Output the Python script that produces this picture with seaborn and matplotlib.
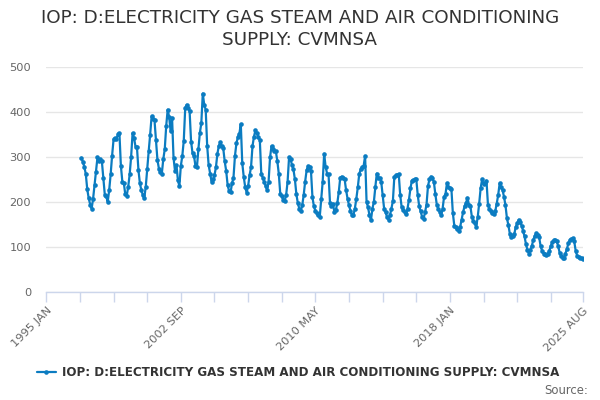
import matplotlib
matplotlib.use("Agg")
import matplotlib.pyplot as plt
import seaborn as sns
import pandas as pd
import numpy as np

# ---- data (monthly values, Jan 1997 .. Aug 2025) ----
start_year = 1997
v1997 = [298, 289, 278, 262, 228, 208, 194, 185, 207, 238, 267, 299]
v1998 = [291, 295, 290, 254, 216, 212, 200, 226, 261, 303, 339, 341]
v1999 = [340, 350, 353, 280, 245, 242, 217, 214, 233, 261, 300, 353]
v2000 = [342, 323, 321, 271, 241, 226, 215, 209, 233, 274, 312, 349]
v2001 = [390, 384, 381, 338, 293, 274, 267, 263, 295, 317, 369, 405]
v2002 = [389, 357, 387, 298, 269, 282, 248, 235, 280, 302, 336, 409]
v2003 = [416, 409, 401, 334, 308, 302, 280, 277, 317, 353, 375, 441]
v2004 = [416, 405, 325, 282, 263, 245, 250, 259, 277, 307, 325, 332]
v2005 = [324, 319, 290, 269, 237, 224, 221, 241, 254, 302, 330, 344]
v2006 = [351, 373, 286, 256, 233, 220, 235, 259, 277, 324, 345, 359]
v2007 = [353, 344, 338, 262, 254, 245, 235, 226, 245, 299, 324, 317]
v2008 = [313, 312, 290, 262, 217, 212, 205, 202, 215, 245, 299, 295]
v2009 = [282, 272, 250, 217, 197, 185, 179, 192, 215, 245, 270, 280]
v2010 = [277, 268, 210, 190, 180, 175, 170, 167, 207, 245, 307, 278]
v2011 = [263, 261, 197, 190, 196, 177, 182, 197, 222, 254, 256, 253]
v2012 = [250, 226, 207, 192, 180, 170, 170, 185, 207, 232, 262, 272]
v2013 = [277, 280, 302, 200, 188, 170, 159, 185, 200, 233, 263, 254]
v2014 = [254, 245, 215, 185, 177, 166, 160, 170, 185, 202, 256, 259]
v2015 = [259, 262, 215, 188, 182, 178, 173, 185, 205, 230, 247, 248]
v2016 = [250, 250, 215, 190, 179, 166, 162, 177, 194, 235, 250, 256]
v2017 = [252, 245, 218, 194, 185, 178, 170, 185, 211, 218, 242, 233]
v2018 = [231, 229, 175, 147, 144, 140, 136, 144, 160, 177, 190, 197]
v2019 = [209, 194, 190, 167, 157, 152, 145, 166, 196, 230, 250, 239]
v2020 = [241, 247, 194, 185, 179, 175, 172, 179, 196, 215, 241, 233]
v2021 = [226, 211, 192, 163, 148, 128, 121, 123, 128, 144, 152, 160]
v2022 = [155, 147, 136, 123, 106, 93, 85, 93, 102, 115, 124, 130]
v2023 = [127, 121, 102, 91, 85, 85, 82, 85, 91, 102, 110, 115]
v2024 = [115, 112, 102, 87, 80, 76, 76, 85, 95, 108, 115, 117]
v2025 = [119, 112, 91, 80, 78, 75, 74, 73]

yearly = [v1997, v1998, v1999, v2000, v2001, v2002, v2003, v2004, v2005,
          v2006, v2007, v2008, v2009, v2010, v2011, v2012, v2013, v2014,
          v2015, v2016, v2017, v2018, v2019, v2020, v2021, v2022, v2023,
          v2024, v2025]

tick_labels = ["1995 JAN", "2002 SEP", "2010 MAY", "2018 JAN", "2025 AUG"]
series_name = "IOP: D:ELECTRICITY GAS STEAM AND AIR CONDITIONING SUPPLY: CVMNSA"
title = "IOP: D:ELECTRICITY GAS STEAM AND AIR CONDITIONING\nSUPPLY: CVMNSA"

rows = []
for i, vals in enumerate(yearly):
    y = start_year + i
    for m, v in enumerate(vals):
        rows.append({"month": (y - 1995) * 12 + m, "value": v})
df = pd.DataFrame(rows)

# ---- figure ----
sns.set_theme(style="white")
plt.rcParams['font.family'] = ['DejaVu Sans']

fig = plt.figure(figsize=(6, 4), dpi=100)
ax = fig.add_axes([46.3 / 600, 1 - 291.7 / 400, (583 - 46.3) / 600, (291.7 - 67) / 400])

color = "#0b7cc1"
sns.lineplot(data=df, x="month", y="value", ax=ax, color=color, linewidth=1.6,
             marker="o", markersize=3.3, markeredgewidth=0, label=series_name, legend=False)

ax.set_ylim(0, 500)
ax.set_xlim(0, 367)
ax.set_yticks([0, 100, 200, 300, 400, 500])
ax.yaxis.grid(True, color="#e6e6e6", linewidth=1)
ax.xaxis.grid(False)
for s in ["top", "right", "left"]:
    ax.spines[s].set_visible(False)
ax.spines["bottom"].set_color("#ccd6eb")
ax.spines["bottom"].set_linewidth(1)

major = [0, 92, 184, 276, 367]
minor = [23, 46, 69, 115, 138, 161, 207, 230, 253, 299, 322, 345]
ax.set_xticks(major)
ax.set_xticklabels(tick_labels, rotation=45, ha="right", rotation_mode="anchor",
                   fontsize=8.2, color="#666666")
ax.set_xticks(minor, minor=True)
ax.tick_params(axis="x", which="both", direction="out", length=7, width=1,
               color="#ccd6eb", bottom=True, pad=3)
ax.tick_params(axis="y", length=0, labelsize=8.2, labelcolor="#666666", pad=11)
ax.set_xlabel("")
ax.set_ylabel("")

fig.text(0.5, 1 - 29 / 400, title, ha="center", va="center", fontsize=13.2,
         color="#333333", linespacing=1.3)

# legend
handles = ax.get_lines()[:1]
leg = fig.legend(handles, [series_name], loc="center", bbox_to_anchor=(298 / 600, 1 - 373 / 400),
                 frameon=False, prop={"weight": "bold", "size": 8.6}, handlelength=1.6,
                 handletextpad=0.5, labelcolor="#333333")

fig.text(588 / 600, 1 - 390 / 400, "Source:", ha="right", va="center", fontsize=8.4,
         color="#666666")

fig.savefig("out.png", dpi=100)
